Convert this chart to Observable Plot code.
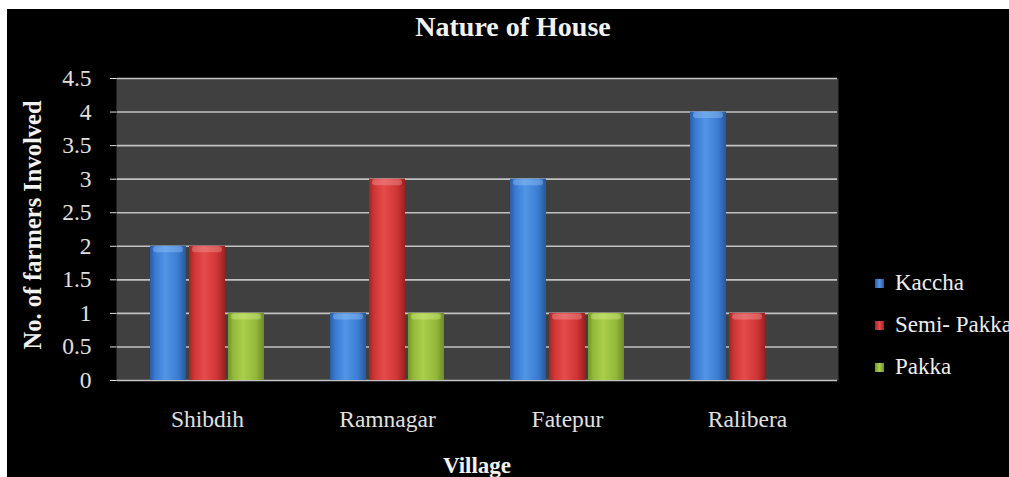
<!DOCTYPE html>
<html>
<head>
<meta charset="utf-8">
<script src="https://cdn.jsdelivr.net/npm/d3@7"></script>
<script src="https://cdn.jsdelivr.net/npm/@observablehq/plot@0.6"></script>
<style>
  html, body { margin: 0; padding: 0; background: #ffffff; width: 1009px; height: 477px; overflow: hidden; }
  #chart { position: absolute; left: 7px; top: 9px; width: 1002px; height: 468px; background: #000; overflow: hidden; font-family: "Liberation Serif", "Times New Roman", serif; }
  #title { position: absolute; left: 0; width: 1012px; top: 4px; text-align: center; color: #f2f2f2; font-weight: bold; font-size: 28px; line-height: 28px; font-family: "Liberation Serif", serif; }
  #ylabel { position: absolute; left: 26px; top: 216px; transform: translate(-50%, -50%) rotate(-90deg); white-space: nowrap; color: #f2f2f2; font-weight: bold; font-size: 24.5px; line-height: 24px; font-family: "Liberation Serif", serif; }
  #xlabel { position: absolute; left: 470px; top: 445px; transform: translateX(-50%); white-space: nowrap; color: #f2f2f2; font-weight: bold; font-size: 23px; line-height: 23px; font-family: "Liberation Serif", serif; }
  #legend { position: absolute; left: 868px; top: 253px; color: #eeeeee; font-size: 23px; font-family: "Liberation Serif", serif; }
  .item { display: flex; align-items: center; height: 42px; white-space: nowrap; }
  .sw { width: 9px; height: 9px; margin-right: 11px; flex: none; }
  #plot { position: absolute; left: 0; top: 0; }
  #plot svg text { font-family: "Liberation Serif", serif; }
</style>
</head>
<body>
<div id="chart">
  <div id="plot"></div>
  <div id="title"></div>
  <div id="ylabel"></div>
  <div id="xlabel"></div>
  <div id="legend"></div>
</div>
<script>
const titleText = "Nature of House";
const yLabelText = "No. of farmers Involved";
const xLabelText = "Village";
const villages = ["Shibdih", "Ramnagar", "Fatepur", "Ralibera"];
const types = ["Kaccha", "Semi- Pakka", "Pakka"];
const kaccha = [2, 1, 3, 4];
const semiPakka = [2, 3, 1, 1];
const pakka = [1, 1, 1, 0];
const yTicks = [0, 0.5, 1, 1.5, 2, 2.5, 3, 3.5, 4, 4.5];

const seriesValues = [kaccha, semiPakka, pakka];
const data = [];
villages.forEach((v, i) => {
  types.forEach((t, j) => data.push({village: v, type: t, value: seriesValues[j][i]}));
});

const gradIds = ["gK", "gS", "gP"];
const gradStops = [
  ["#2a5da6", "#3a7ad2", "#5195e6", "#3b7cd2", "#28579b"],
  ["#a32424", "#d03636", "#e54b4b", "#cf3535", "#9a2222"],
  ["#759629", "#92b93a", "#a9cf4b", "#92b83a", "#6f8d27"]
];
const capColors = ["#9cc8f7", "#f5a0a0", "#d8f08c"];

const marks = [
  Plot.frame({fill: "#404040", stroke: "none", insetLeft: -1, insetRight: -1}),
  Plot.ruleY(yTicks, {stroke: "#c2c2c2", strokeWidth: 1.6}),
  Plot.barY(data, {x: "type", y: "value", fill: "type"})
];
types.forEach((t, j) => {
  marks.push(Plot.tickY(data, {
    filter: d => d.type === t && d.value > 0,
    x: "type", y: "value", stroke: capColors[j], strokeOpacity: 0.4,
    strokeWidth: 6, dy: 3, insetLeft: 6, insetRight: 6, strokeLinecap: "round"
  }));
});

const svg = Plot.plot({
  width: 1002,
  height: 468,
  marginLeft: 110,
  marginRight: 172,
  marginTop: 69,
  marginBottom: 97,
  style: "background: transparent; color: #e0e0e0; font-family: 'Liberation Serif', serif; font-size: 23.5px;",
  facet: {data: data, x: "village"},
  fx: {domain: villages, padding: 0, round: false, axis: "bottom", tickSize: 0, tickPadding: 30, label: null},
  x: {domain: types, axis: null, paddingInner: 0.075, paddingOuter: 0.79},
  y: {domain: [0, 4.5], ticks: yTicks, tickFormat: d => String(d), tickSize: 7, tickPadding: 19, line: true, label: null},
  color: {domain: types, range: gradIds.map(id => `url(#${id})`)},
  marks
});

d3.select(svg).attr("font-family", "Liberation Serif, serif").attr("font-size", 23.5);
const defs = d3.select(svg).insert("defs", ":first-child");
gradIds.forEach((id, j) => {
  const g = defs.append("linearGradient").attr("id", id).attr("x1", 0).attr("x2", 1).attr("y1", 0).attr("y2", 0);
  [0, 0.15, 0.42, 0.78, 1].forEach((o, k) => g.append("stop").attr("offset", o).attr("stop-color", gradStops[j][k]));
});

document.getElementById("plot").appendChild(svg);
document.getElementById("title").textContent = titleText;
document.getElementById("ylabel").textContent = yLabelText;
document.getElementById("xlabel").textContent = xLabelText;
const legend = document.getElementById("legend");
types.forEach((t, j) => {
  const item = document.createElement("div");
  item.className = "item";
  const sw = document.createElement("span");
  sw.className = "sw";
  sw.style.background = `linear-gradient(90deg, ${gradStops[j][0]}, ${gradStops[j][2]}, ${gradStops[j][4]})`;
  const lab = document.createElement("span");
  lab.textContent = t;
  item.appendChild(sw);
  item.appendChild(lab);
  legend.appendChild(item);
});
</script>
</body>
</html>
